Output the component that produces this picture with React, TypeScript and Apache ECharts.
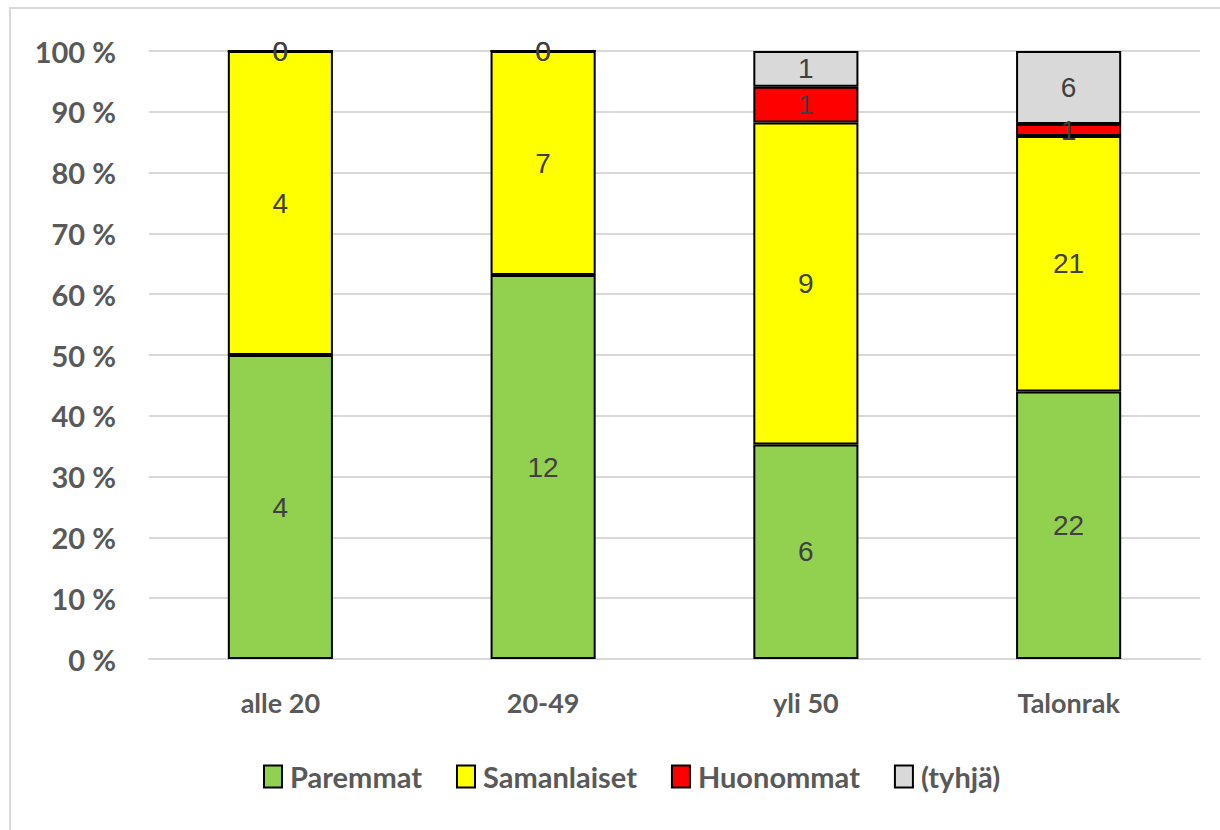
import React, { useEffect, useRef } from "react";
import * as echarts from "echarts";

const categories = ["alle 20", "20-49", "yli 50", "Talonrak"];
const seriesNames = ["Paremmat", "Samanlaiset", "Huonommat", "(tyhjä)"];
const paremmat = [4, 12, 6, 22];
const samanlaiset = [4, 7, 9, 21];
const huonommat = [0, 0, 1, 1];
const tyhja = [0, 0, 1, 6];
const colors = ["#92d050", "#ffff00", "#ff0000", "#d9d9d9"];
const yTicks = [0, 10, 20, 30, 40, 50, 60, 70, 80, 90, 100];

const FONT = "Lato, 'Liberation Sans', sans-serif";

export default function App() {
  const ref = useRef<HTMLDivElement>(null);
  useEffect(() => {
    if (!ref.current) return;
    const chart = echarts.init(ref.current, null, { renderer: "svg" });
    const all = [paremmat, samanlaiset, huonommat, tyhja];
    const totals = categories.map((_, i) => all.reduce((s, a) => s + a[i], 0));
    const series = all.map((arr, si) => ({
      name: seriesNames[si],
      type: "bar",
      stack: "total",
      barWidth: "40%",
      data: arr.map((v, i) => ({ value: (v / totals[i]) * 100, raw: v })),
      itemStyle: { color: colors[si], borderColor: "#000", borderWidth: 2 },
      label: {
        show: true,
        position: "inside",
        formatter: (p: any) => String(p.data.raw),
        color: "#404040",
        fontFamily: "'Liberation Sans', sans-serif",
        fontSize: 28,
      },
    }));
    chart.setOption({
      animation: false,
      graphic: [
        {
          type: "rect",
          z: -10,
          silent: true,
          shape: { x: 10, y: 8, width: 1400, height: 1000 },
          style: { fill: "none", stroke: "#d9d9d9", lineWidth: 2 },
        },
      ],
      grid: { left: 149, right: 20, top: 51, bottom: 171, containLabel: false },
      legend: {
        bottom: 34,
        left: 258,
        icon: "rect",
        itemWidth: 18,
        itemHeight: 22,
        itemGap: 34,
        textStyle: {
          color: "#595959",
          fontFamily: FONT,
          fontWeight: "bold",
          fontSize: 29,
          padding: [0, 0, 0, 3],
        },
        itemStyle: { borderColor: "#000", borderWidth: 2 },
        data: seriesNames,
      },
      xAxis: {
        type: "category",
        data: categories,
        axisTick: { show: false },
        axisLine: { lineStyle: { color: "#d9d9d9", width: 2 } },
        axisLabel: {
          color: "#595959",
          fontFamily: FONT,
          fontWeight: "bold",
          fontSize: 27,
          margin: 30,
        },
      },
      yAxis: {
        type: "value",
        min: yTicks[0],
        max: yTicks[yTicks.length - 1],
        interval: 10,
        axisLine: { show: false },
        axisTick: { show: false },
        splitLine: { lineStyle: { color: "#d9d9d9", width: 2 } },
        axisLabel: {
          color: "#595959",
          fontFamily: FONT,
          fontWeight: "bold",
          fontSize: 29,
          margin: 33,
          formatter: "{value} %",
        },
      },
      series,
    });
    return () => chart.dispose();
  }, []);
  return (
    <div
      ref={ref}
      style={{ position: "fixed", left: 0, top: 0, width: 1220, height: 830, background: "#fff" }}
    />
  );
}
